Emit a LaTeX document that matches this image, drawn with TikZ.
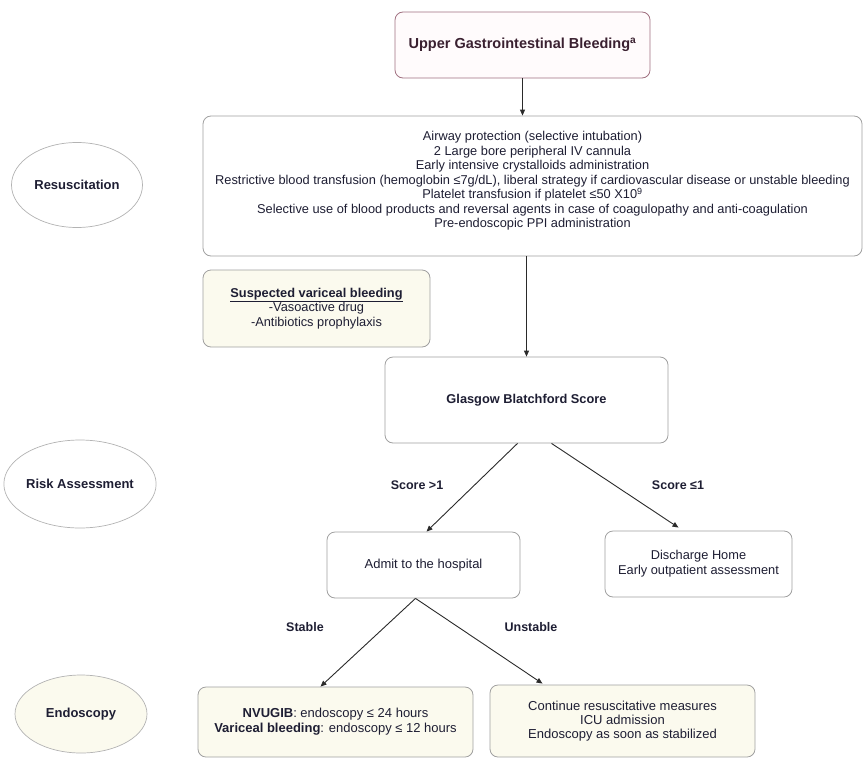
\documentclass[tikz,border=0pt]{standalone}
\usepackage{fontspec}
\setmainfont{Liberation Sans}
\usetikzlibrary{calc,shapes.geometric,arrows.meta}

\definecolor{inkc}{HTML}{1E1E33}
\definecolor{titlec}{HTML}{3A2030}
\definecolor{edgec}{HTML}{A0A0A0}
\definecolor{redge}{HTML}{A07080}
\definecolor{cream}{HTML}{FBFAEE}
\definecolor{pinkfill}{HTML}{FFFBFC}
\definecolor{arrowc}{HTML}{2A2A2A}

\newcommand{\fsz}[2]{\fontsize{#1}{#2}\selectfont}

\tikzset{
  x=1pt, y=-1pt,
  box/.style={draw=edgec, line width=0.8pt, rounded corners=8pt, fill=white,
    align=center, text=inkc, inner sep=2pt, font=\fsz{12.8}{14.8}},
  creambox/.style={box, fill=cream},
  titlebox/.style={box, draw=redge, fill=pinkfill, text=titlec,
    font=\fsz{14.5}{16}\bfseries},
  stage/.style={ellipse, draw=edgec!80, line width=0.7pt, fill=white, text=inkc,
    font=\fsz{13}{15}\bfseries, inner sep=0pt},
  lbl/.style={text=inkc, font=\fsz{12.5}{14}\bfseries, inner sep=1pt},
  flow/.style={draw=arrowc, line width=0.9pt, -{Triangle[length=6pt,width=5pt]}},
}

\begin{document}
\begin{tikzpicture}
\useasboundingbox (0,0) rectangle (866,760);

% phase labels on the left
\node[stage, minimum width=131, minimum height=85] (resE) at (77,185) {Resuscitation};
\node[stage, minimum width=132, minimum height=88] (riskE) at (80,484) {Risk Assessment};
\node[stage, fill=cream, minimum width=132, minimum height=78] (endoE) at (81,714) {Endoscopy};

% main flow
\node[titlebox, minimum width=255, minimum height=66] (top) at (522.5,45)
  {Upper Gastrointestinal Bleeding\textsuperscript{a}};

% resuscitation box, with its list set slightly above the middle
\node[box, minimum width=659, minimum height=140] (resus) at (532.5,186) {};
\node[align=center, text=inkc, font=\fsz{12.8}{14.5}, inner sep=0pt] (resusText) at (532.5,181)
  {Airway protection (selective intubation)\\
   2 Large bore peripheral IV cannula\\
   Early intensive crystalloids administration\\
   Restrictive blood transfusion (hemoglobin ≤7g/dL), liberal strategy if cardiovascular disease or unstable bleeding\\
   Platelet transfusion if platelet ≤50 X10\textsuperscript{9}\\
   Selective use of blood products and reversal agents in case of coagulopathy and anti-coagulation\\
   Pre-endoscopic PPI administration};

\node[creambox, minimum width=227, minimum height=77, font=\fsz{12.8}{14.5}] (vari) at (316.5,308.5)
  {\textbf{\underline{Suspected variceal bleeding}}\\
   -Vasoactive drug\\
   -Antibiotics prophylaxis};

\node[box, minimum width=283, minimum height=86, font=\fsz{12.8}{15}\bfseries] (gbs) at (526.5,400)
  {Glasgow Blatchford Score};

\node[box, minimum width=193, minimum height=66, font=\fsz{13}{15}] (admit) at (423.5,565)
  {Admit to the hospital};

\node[box, minimum width=187, minimum height=66, font=\fsz{12.8}{15}] (disch) at (698.5,564)
  {Discharge Home\\Early outpatient assessment};

\node[creambox, minimum width=275, minimum height=70, font=\fsz{13}{15}] (endoL) at (335.5,722)
  {\textbf{NVUGIB}: endoscopy ≤ 24 hours\\
   \textbf{Variceal bleeding}: endoscopy ≤ 12 hours};

\node[creambox, minimum width=265, minimum height=72, font=\fsz{13}{14}] (endoR) at (622.5,721)
  {Continue resuscitative measures\\
   ICU admission\\
   Endoscopy as soon as stabilized};

% connectors
\draw[flow] (top.south) -- (resus.north -| top.south);
\draw[flow] (resus.south -| gbs.north) -- (gbs.north);

\coordinate (gL) at ($(gbs.south)+(-9,0)$);
\coordinate (gR) at ($(gbs.south)+(25,0)$);
\coordinate (admitIn) at ($(admit.north)+(3,0)$);
\coordinate (dischIn) at ($(disch.north)+(-20,-3)$);
\draw[flow] (gL) -- (admitIn);
\draw[flow] (gR) -- (dischIn);

\coordinate (aS) at ($(admit.south)+(-8,0)$);
\coordinate (eLIn) at ($(endoL.north)+(-15,0)$);
\coordinate (eRIn) at ($(endoR.north)+(-80,-1)$);
\draw[flow] (aS) -- (eLIn);
\draw[flow] (aS) -- (eRIn);

% branch labels
\node[lbl] (s1) at (417,485) {Score >1};
\node[lbl] (s2) at (678,485) {Score ≤1};
\node[lbl] (st) at (305,627) {Stable};
\node[lbl] (un) at (531,627) {Unstable};
\end{tikzpicture}
\end{document}
